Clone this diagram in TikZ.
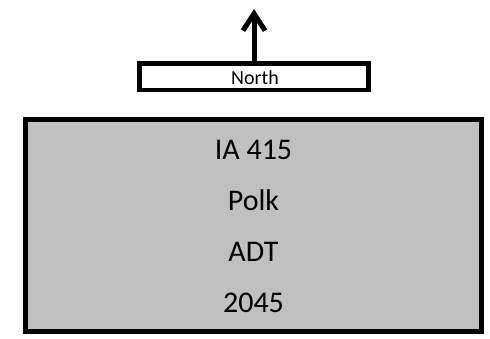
\documentclass[tikz,border=0pt]{standalone}
\usepackage{fontspec}
\setmainfont{Carlito}
\usetikzlibrary{arrows.meta}
\definecolor{panelgrey}{RGB}{192,192,192}
\tikzset{
  outline/.style={draw=black, line width=5pt, rectangle, inner sep=0pt},
  label30/.style={font=\fontsize{30}{36}\selectfont, anchor=base, inner sep=0pt},
  label20/.style={font=\fontsize{20}{24}\selectfont, anchor=base, inner sep=0pt},
}
\begin{document}
\begin{tikzpicture}[x=1pt, y=-1pt]
  \useasboundingbox (0,0) rectangle (490,339);
  % compass box with arrow
  \node[outline, line width=4.5pt, fill=white, minimum width=229pt, minimum height=26.5pt]
    (northbox) at (254,76.75) {};
  \node[label20] (northtext) at (255,84.5) {North};
  \coordinate (tip) at (254,9);
  \draw[line width=5pt, -{Straight Barb[length=17pt, width=22pt]}] (northbox.north) -- (tip);
  % summary panel
  \node[outline, fill=panelgrey, minimum width=456pt, minimum height=212pt]
    (panel) at (253.5,225.5) {};
  \node[label30] (route) at (253.5,159.5) {IA 415};
  \node[label30] (county) at (253.5,210.5) {Polk};
  \node[label30] (metric) at (253.5,261.5) {ADT};
  \node[label30] (year) at (253.5,312.5) {2045};
\end{tikzpicture}
\end{document}
